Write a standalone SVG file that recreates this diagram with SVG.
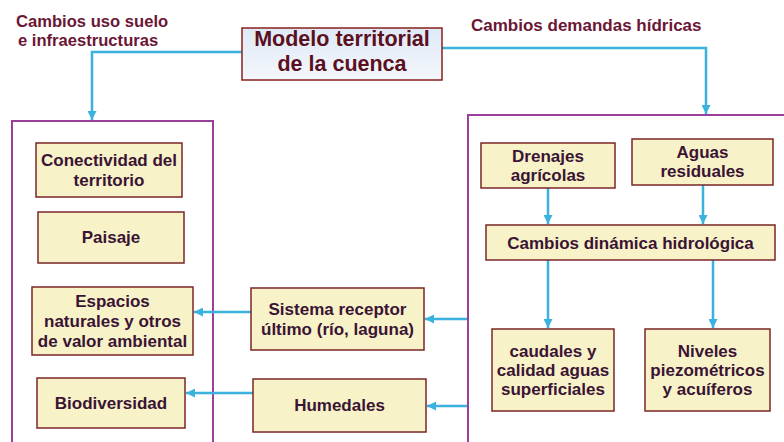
<svg xmlns="http://www.w3.org/2000/svg" width="784" height="442" viewBox="0 0 784 442">
<defs>
<linearGradient id="gTop" x1="0" y1="0" x2="0" y2="1">
<stop offset="0" stop-color="#dfe9f6"/>
<stop offset="1" stop-color="#f4f7fc"/>
</linearGradient>
<marker id="ah" viewBox="0 0 10 10" refX="10" refY="5" markerUnits="userSpaceOnUse" markerWidth="9" markerHeight="9" orient="auto">
<path d="M0,0 L10,5 L0,10 z" fill="#3bb1de"/>
</marker>
<style>
.node{fill:#f8f2c8;stroke:#7b2626;stroke-width:1.5}
.frame{fill:none;stroke:#9b3f9b;stroke-width:2}
.t{font-family:"Liberation Sans",Arial,sans-serif;font-weight:bold;font-size:17px;fill:#3a1434;text-anchor:middle}
.lbl{font-family:"Liberation Sans",Arial,sans-serif;font-weight:bold;font-size:16.6px;fill:#6c1636}
.title{font-family:"Liberation Sans",Arial,sans-serif;font-weight:bold;font-size:21.5px;fill:#5a1020;text-anchor:middle}
.c{fill:none;stroke:#3bb1de;stroke-width:2.5;marker-end:url(#ah)}
</style>
</defs>
<rect width="784" height="442" fill="#ffffff"/>

<g id="frames">
<rect class="frame" x="12" y="121" width="201" height="340"/>
<rect class="frame" x="468" y="115" width="340" height="346"/>
</g>

<g id="labels">
<text class="lbl" x="16" y="27">Cambios uso suelo</text>
<text class="lbl" x="18" y="46">e infraestructuras</text>
<text class="lbl" x="471" y="31" style="font-size:17px">Cambios demandas hídricas</text>
</g>

<g id="connectors">
<path class="c" d="M242,52 H92 V120"/>
<path class="c" d="M442,48 H706 V114"/>
<path class="c" d="M548,188 V224"/>
<path class="c" d="M703,185 V224"/>
<path class="c" d="M548,260 V328"/>
<path class="c" d="M713,260 V328"/>
<path class="c" d="M467,319 H425"/>
<path class="c" d="M467,406 H427"/>
<path class="c" d="M251,312 H194"/>
<path class="c" d="M253,393 H186"/>
</g>

<g id="modelo">
<rect x="242" y="28" width="200" height="52" fill="url(#gTop)" stroke="#8b1f1f" stroke-width="1.5"/>
<text class="title" x="342" y="46">Modelo territorial</text>
<text class="title" x="342" y="71">de la cuenca</text>
</g>

<g id="conectividad">
<rect class="node" x="36" y="143" width="146" height="54"/>
<text class="t" x="109" y="166">Conectividad del</text>
<text class="t" x="109" y="186">territorio</text>
</g>

<g id="paisaje">
<rect class="node" x="38" y="212" width="146" height="51"/>
<text class="t" x="111" y="243">Paisaje</text>
</g>

<g id="espacios">
<rect class="node" x="32" y="287" width="161" height="68"/>
<text class="t" x="112.5" y="307">Espacios</text>
<text class="t" x="112.5" y="327">naturales y otros</text>
<text class="t" x="112.5" y="347">de valor ambiental</text>
</g>

<g id="biodiversidad">
<rect class="node" x="37" y="378" width="148" height="50"/>
<text class="t" x="111" y="409">Biodiversidad</text>
</g>

<g id="sistema">
<rect class="node" x="251" y="288" width="173" height="62"/>
<text class="t" x="337.5" y="315">Sistema receptor</text>
<text class="t" x="337.5" y="335">último (río, laguna)</text>
</g>

<g id="humedales">
<rect class="node" x="253" y="379" width="173" height="53"/>
<text class="t" x="339.5" y="411">Humedales</text>
</g>

<g id="drenajes">
<rect class="node" x="481" y="143" width="134" height="45"/>
<text class="t" x="548" y="162">Drenajes</text>
<text class="t" x="548" y="181">agrícolas</text>
</g>

<g id="aguas">
<rect class="node" x="632" y="139" width="141" height="46"/>
<text class="t" x="702.5" y="158">Aguas</text>
<text class="t" x="702.5" y="177">residuales</text>
</g>

<g id="dinamica">
<rect class="node" x="486" y="225" width="289" height="35"/>
<text class="t" x="630.5" y="248.5">Cambios dinámica hidrológica</text>
</g>

<g id="caudales">
<rect class="node" x="492" y="329" width="122" height="82"/>
<text class="t" x="553" y="357">caudales y</text>
<text class="t" x="553" y="376">calidad aguas</text>
<text class="t" x="553" y="395">superficiales</text>
</g>

<g id="niveles">
<rect class="node" x="645" y="329" width="125" height="82"/>
<text class="t" x="707.5" y="357">Niveles</text>
<text class="t" x="707.5" y="376">piezométricos</text>
<text class="t" x="707.5" y="395">y acuíferos</text>
</g>
</svg>
